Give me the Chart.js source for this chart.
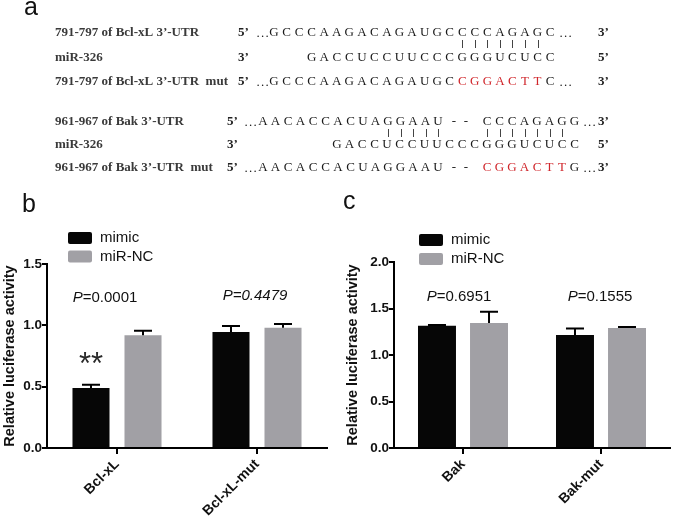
<!DOCTYPE html>
<html>
<head>
<meta charset="utf-8">
<script src="https://cdn.jsdelivr.net/npm/chart.js@4.4.0/dist/chart.umd.min.js"></script>
<style>
  body { margin: 0; background: #fff; }
  #wrap { position: relative; width: 676px; height: 519px; overflow: hidden; background: #fff; }
  canvas { position: absolute; }
</style>
</head>
<body>
<div id="wrap">
  <canvas id="bg" width="676" height="519" style="left:0;top:0"></canvas>
  <canvas id="chartB" width="335" height="319" style="left:0;top:200px"></canvas>
  <canvas id="chartC" width="336" height="319" style="left:340px;top:200px"></canvas>
</div>
<script>
// === DATA ===
const groupsB = ["Bcl-xL", "Bcl-xL-mut"];
const mimicB = [0.49, 0.945];
const mimicSdB = [0.025, 0.05];
const ncB = [0.92, 0.98];
const ncSdB = [0.035, 0.03];
const pValuesB = ["0.0001", "0.4479"];

const groupsC = ["Bak", "Bak-mut"];
const mimicC = [1.315, 1.215];
const mimicSdC = [0.008, 0.07];
const ncC = [1.345, 1.29];
const ncSdC = [0.12, 0.012];
const pValuesC = ["0.6951", "0.1555"];

const seriesNames = ["mimic", "miR-NC"];
const yTitle = "Relative luciferase activity";

const black = "#060606";
const gray = "#a1a0a5";
const sans = '"Liberation Sans", Arial, sans-serif';
const serif = '"Liberation Serif", "Times New Roman", serif';

// === PANEL a : sequence alignment (plain canvas) ===
function drawRun(ctx, text, x0, pitch, y) {
  const centers = [];
  for (let i = 0; i < text.length; i++) {
    const x = x0 + i * pitch;
    ctx.fillText(text[i], x, y);
    centers.push(x);
  }
  return centers;
}

function drawBars(ctx, xs, y0, y1) {
  ctx.save();
  ctx.strokeStyle = "#444";
  ctx.lineWidth = 1;
  xs.forEach(x => {
    ctx.beginPath();
    ctx.moveTo(Math.round(x) + 0.5, y0);
    ctx.lineTo(Math.round(x) + 0.5, y1);
    ctx.stroke();
  });
  ctx.restore();
}

function drawPanelA() {
  const ctx = document.getElementById("bg").getContext("2d");
  ctx.fillStyle = "#fff";
  ctx.fillRect(0, 0, 676, 519);

  // panel letters
  ctx.fillStyle = "#111";
  ctx.font = "25px " + sans;
  ctx.textBaseline = "alphabetic";
  ctx.textAlign = "left";
  ctx.fillText("a", 24, 15);
  ctx.fillText("b", 22, 212);
  ctx.fillText("c", 343, 209);

  const label = (t, y) => {
    ctx.font = "bold 13px " + serif;
    ctx.fillStyle = "#3a3a3a";
    ctx.textAlign = "left";
    ctx.fillText(t, 55, y);
  };
  const end = (t, x, y) => {
    ctx.font = "bold 13px " + serif;
    ctx.fillStyle = "#222";
    ctx.textAlign = "left";
    ctx.fillText(t, x, y);
  };
  const seq = (t, x0, pitch, y, color) => {
    ctx.font = "13px " + serif;
    ctx.fillStyle = color || "#1a1a1a";
    ctx.textAlign = "center";
    return drawRun(ctx, t, x0, pitch, y);
  };
  const dots = (x, y) => seq("...", x, 4.5, y);
  ctx.textBaseline = "middle";

  // block 1 : Bcl-xL
  const p1 = 12.55, g1 = 274;
  label("791-797 of Bcl-xL 3\u2019-UTR", 33);
  end("5\u2019", 238, 33);
  dots(258, 34);
  const top1 = seq("GCCCAAGACAGAUGCCCCAGAGC", g1, p1, 33);
  dots(561, 34);
  end("3\u2019", 598, 33);
  drawBars(ctx, top1.slice(15, 22), 40, 48);

  label("miR-326", 58);
  end("3\u2019", 238, 58);
  seq("GACCUCCUUCCCGGGUCUCC", g1 + 3 * p1, p1, 58);
  end("5\u2019", 598, 58);

  label("791-797 of Bcl-xL 3\u2019-UTR  mut", 82);
  end("5\u2019", 238, 82);
  dots(258, 83);
  seq("GCCCAAGACAGAUGC", g1, p1, 82);
  seq("CGGACTT", g1 + 15 * p1, p1, 82, "#d0262b");
  seq("C", g1 + 22 * p1, p1, 82);
  dots(561, 83);
  end("3\u2019", 598, 82);

  // block 2 : Bak
  const p2 = 12.5;
  label("961-967 of Bak 3\u2019-UTR", 122);
  end("5\u2019", 227, 122);
  dots(246, 123);
  const left2 = seq("AACACCACUAGGAAU", 263, p2, 122);
  seq("--", 454, 12, 122);
  const right2 = seq("CCCAGAGG", 487, p2, 122);
  dots(585, 123);
  end("3\u2019", 598, 122);
  drawBars(ctx, left2.slice(10, 15), 129, 137);
  drawBars(ctx, right2.slice(0, 7), 129, 137);

  label("miR-326", 145);
  end("3\u2019", 227, 145);
  seq("GACCUCCUUCCCGGGUCUCC", 337, p2, 145);
  end("5\u2019", 598, 145);

  label("961-967 of Bak 3\u2019-UTR  mut", 168);
  end("5\u2019", 227, 168);
  dots(246, 169);
  seq("AACACCACUAGGAAU", 263, p2, 168);
  seq("--", 454, 12, 168);
  seq("CGGACTT", 487, p2, 168, "#d0262b");
  seq("G", 487 + 7 * p2, p2, 168);
  dots(585, 169);
  end("3\u2019", 598, 168);
}

// === CHART PLUGINS ===
const errBars = {
  id: "errBars",
  afterDatasetsDraw(chart) {
    const { ctx } = chart;
    const y = chart.scales.y;
    ctx.save();
    ctx.strokeStyle = "#000";
    ctx.lineWidth = 2;
    chart.data.datasets.forEach((ds, i) => {
      chart.getDatasetMeta(i).data.forEach((bar, j) => {
        const top = y.getPixelForValue(ds.data[j] + ds.sd[j]);
        ctx.beginPath();
        ctx.moveTo(bar.x, bar.y);
        ctx.lineTo(bar.x, top);
        ctx.moveTo(bar.x - 9, top);
        ctx.lineTo(bar.x + 9, top);
        ctx.stroke();
      });
    });
    ctx.restore();
  }
};

const notes = {
  id: "notes",
  afterDraw(chart, args, opts) {
    const { ctx } = chart;
    const xs = chart.scales.x, ys = chart.scales.y;
    ctx.save();

    // legend
    chart.data.datasets.forEach((ds, i) => {
      const bx = opts.legendX, by = opts.legendY + i * opts.legendGap;
      ctx.fillStyle = ds.backgroundColor;
      ctx.beginPath();
      ctx.roundRect(bx, by, 24, 12, 2);
      ctx.fill();
      ctx.fillStyle = "#111";
      ctx.font = "15px " + sans;
      ctx.textAlign = "left";
      ctx.textBaseline = "middle";
      ctx.fillText(ds.label, bx + 32, by + 6);
    });

    // P values
    opts.pValues.forEach((val, j) => {
      const cx = xs.getPixelForValue(j) + opts.pDx[j];
      const cy = ys.getPixelForValue(opts.pY[j]);
      const fI = "italic 15px " + sans;
      const fR = (opts.pItalic[j] ? "italic " : "") + "15px " + sans;
      const rest = "=" + val;
      ctx.font = fI;
      const w1 = ctx.measureText("P").width;
      ctx.font = fR;
      const w2 = ctx.measureText(rest).width;
      const x0 = cx - (w1 + w2) / 2;
      ctx.fillStyle = "#111";
      ctx.textAlign = "left";
      ctx.textBaseline = "middle";
      ctx.font = fI;
      ctx.fillText("P", x0, cy);
      ctx.font = fR;
      ctx.fillText(rest, x0 + w1, cy);
    });

    // significance stars
    if (opts.stars) {
      const bar = chart.getDatasetMeta(0).data[opts.stars.index];
      ctx.font = "31px " + sans;
      ctx.fillStyle = "#2a2a2a";
      ctx.textAlign = "center";
      ctx.textBaseline = "alphabetic";
      ctx.fillText("**", bar.x, ys.getPixelForValue(opts.stars.y) + 16);
    }
    ctx.restore();
  }
};

function makeChart(id, c) {
  return new Chart(document.getElementById(id), {
    type: "bar",
    data: {
      labels: c.labels,
      datasets: [
        { label: seriesNames[0], data: c.mimic, sd: c.mimicSd, backgroundColor: black },
        { label: seriesNames[1], data: c.nc, sd: c.ncSd, backgroundColor: gray }
      ]
    },
    options: {
      responsive: false,
      animation: false,
      devicePixelRatio: 1,
      layout: { padding: { top: c.padTop, right: c.padRight, left: 0, bottom: 0 } },
      datasets: { bar: { categoryPercentage: c.catPct, barPercentage: c.barPct } },
      plugins: {
        legend: { display: false },
        tooltip: { enabled: false },
        notes: c.notes
      },
      scales: {
        x: {
          offset: true,
          grid: { offset: false, drawOnChartArea: false, color: "#000", lineWidth: 2, tickLength: 6 },
          border: { color: "#000", width: 2 },
          ticks: { minRotation: 45, maxRotation: 45, color: "#111", padding: 2,
                   font: { family: sans, size: 14, weight: "bold" } },
          afterFit: s => { s.height = 71; }
        },
        y: {
          min: 0,
          max: c.yMax,
          ticks: { stepSize: 0.5, callback: v => v.toFixed(1), color: "#111", padding: 0,
                   font: { family: sans, size: 13.5, weight: "bold" } },
          grid: { drawOnChartArea: false, color: "#000", lineWidth: 2, tickLength: 5 },
          border: { color: "#000", width: 2 },
          title: { display: true, text: yTitle, color: "#111",
                   font: { family: sans, size: 14.5, weight: "bold" },
                   padding: { top: c.titlePad, bottom: 0 } },
          afterFit: s => { s.width = c.yAxisW; }
        }
      }
    },
    plugins: [errBars, notes]
  });
}

drawPanelA();

makeChart("chartB", {
  labels: groupsB, mimic: mimicB, mimicSd: mimicSdB, nc: ncB, ncSd: ncSdB,
  yMax: 1.5, padTop: 64, padRight: 8, yAxisW: 47, titlePad: 1,
  catPct: 0.743, barPct: 0.712,
  notes: {
    legendX: 68, legendY: 32, legendGap: 18.5,
    pValues: pValuesB, pY: [1.223, 1.239], pDx: [-12, -2], pItalic: [false, true],
    stars: { index: 0, y: 0.73 }
  }
});

makeChart("chartC", {
  labels: groupsC, mimic: mimicC, mimicSd: mimicSdC, nc: ncC, ncSd: ncSdC,
  yMax: 2.0, padTop: 62, padRight: 6, yAxisW: 54, titlePad: 4,
  catPct: 0.754, barPct: 0.73,
  notes: {
    legendX: 79, legendY: 34, legendGap: 19,
    pValues: pValuesC, pY: [1.624, 1.624], pDx: [-4, -1], pItalic: [false, false],
    stars: null
  }
});
</script>
</body>
</html>
